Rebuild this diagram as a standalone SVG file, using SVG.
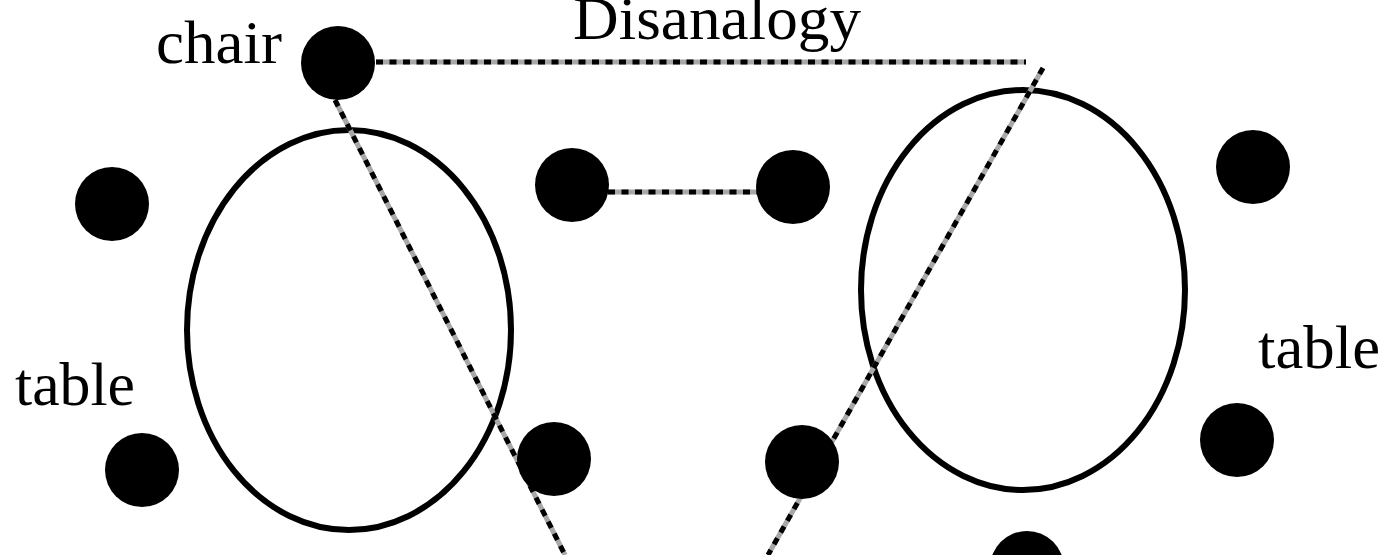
<svg xmlns="http://www.w3.org/2000/svg" width="1392" height="555" viewBox="0 0 1392 555">
<style>
.dot{fill:#000}
.ell{fill:none;stroke:#000;stroke-width:6}
.base{stroke:#a8a8a8;stroke-width:5;fill:none}
.dash{stroke:#000;stroke-width:5;fill:none;stroke-dasharray:7 6.5}
.lbl{font-family:"Liberation Serif","Times New Roman",serif;font-size:61px;fill:#000}
</style>
<rect width="1392" height="555" fill="#fff"/>
<g id="left-table">
<ellipse class="ell" cx="349" cy="330" rx="162" ry="200"/>
</g>
<g id="right-table">
<ellipse class="ell" cx="1023" cy="290" rx="162" ry="200"/>
</g>
<g id="connectors">
<line class="base" x1="376" y1="62" x2="1026" y2="62"/>
<line class="dash" x1="376" y1="62" x2="1026" y2="62"/>
<line class="base" x1="608" y1="192" x2="757" y2="192"/>
<line class="dash" x1="608" y1="192" x2="757" y2="192"/>
<line class="base" x1="335" y1="100" x2="565" y2="555"/>
<line class="dash" x1="335" y1="100" x2="565" y2="555"/>
<line class="base" x1="1043" y1="68" x2="768" y2="555"/>
<line class="dash" x1="1043" y1="68" x2="768" y2="555"/>
</g>
<g id="chair"><circle class="dot" cx="338" cy="63" r="37"/></g>
<g id="n-left-top"><circle class="dot" cx="112" cy="204" r="37"/></g>
<g id="n-left-bottom"><circle class="dot" cx="142" cy="470" r="37"/></g>
<g id="n-mid-top-left"><circle class="dot" cx="572" cy="185" r="37"/></g>
<g id="n-mid-top-right"><circle class="dot" cx="793" cy="187" r="37"/></g>
<g id="n-mid-bottom-left"><circle class="dot" cx="554" cy="459" r="37"/></g>
<g id="n-mid-bottom-right"><circle class="dot" cx="802" cy="462" r="37"/></g>
<g id="n-right-top"><circle class="dot" cx="1253" cy="167" r="37"/></g>
<g id="n-right-mid"><circle class="dot" cx="1237" cy="440" r="37"/></g>
<g id="n-right-bottom"><circle class="dot" cx="1027" cy="568" r="37"/></g>
<g id="labels">
<text class="lbl" x="156" y="63" textLength="126" lengthAdjust="spacingAndGlyphs">chair</text>
<text class="lbl" x="573" y="39" textLength="288" lengthAdjust="spacingAndGlyphs">Disanalogy</text>
<text class="lbl" x="15" y="405" textLength="120" lengthAdjust="spacingAndGlyphs">table</text>
<text class="lbl" x="1258" y="368" textLength="122" lengthAdjust="spacingAndGlyphs">table</text>
</g>
</svg>
